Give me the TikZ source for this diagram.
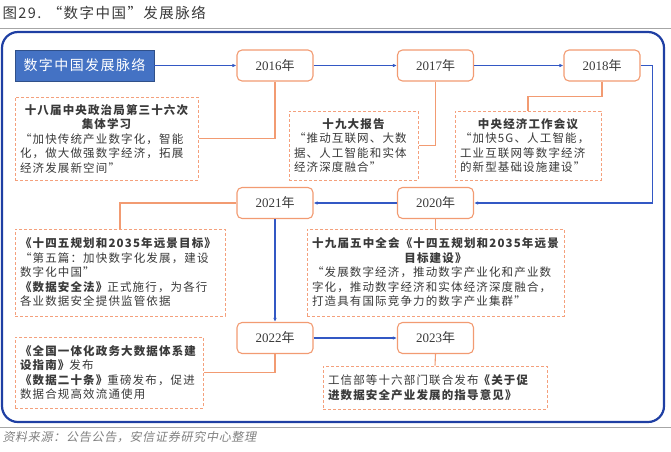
\documentclass[tikz,border=0pt]{standalone}
\usepackage{fontspec}
\setmainfont{Noto Sans CJK SC}[LetterSpace=10]
\newfontfamily\tnr{Liberation Serif}
\newfontfamily\srcfont{Noto Sans CJK SC}[FakeSlant=0.2, LetterSpace=6]
\usetikzlibrary{positioning,arrows.meta}
\definecolor{frameblue}{HTML}{1F3FA3}
\definecolor{lineblue}{HTML}{3358C4}
\definecolor{headblue}{HTML}{4472C4}
\definecolor{yearorange}{HTML}{F29B72}
\definecolor{noteorange}{HTML}{F4A07C}
\definecolor{textgray}{HTML}{3A3A3A}
\newcommand{\yr}[1]{{\tnr #1}年}
\tikzset{
  yearbox/.style={draw=yearorange, line width=1.1pt, rounded corners=5pt, fill=white,
    minimum width=76pt, minimum height=31pt, font=\fontsize{13}{14}\selectfont, text=textgray},
  notebox/.style={draw=noteorange, dash pattern=on 3pt off 2pt, line width=1pt, fill=white,
    inner sep=5pt, font=\fontsize{11.5}{14.5}\selectfont, text=textgray},
  blueline/.style={lineblue, line width=1.1pt, -{Latex[length=4pt,width=3.5pt]}},
  orangeline/.style={yearorange, line width=1.1pt}
}

\begin{document}
\begin{tikzpicture}[x=1pt, y=-1pt]
    \useasboundingbox (0,0) rectangle (671,451);
    % title and rules
    \node[anchor=west, font=\fontsize{14.5}{17}\selectfont, text=textgray] (fig) at (-1,13) {图29. “数字中国”发展脉络};
    \draw[gray!70, line width=0.8pt] (0,28) -- (671,28);
    \draw[gray!70, line width=0.8pt] (0,427) -- (671,427);
    \node[anchor=west, font=\srcfont\fontsize{12}{13}\selectfont, text=gray] (src) at (-1,437) {资料来源：公告公告，安信证券研究中心整理};
    \draw[frameblue, line width=2.2pt, rounded corners=16pt] (2,32) rectangle (664,422);
    %
    \node[fill=headblue, draw=headblue!70!black, minimum width=139pt, minimum height=31pt,
      text=white, font=\fontsize{14}{16}\selectfont] (head) at (84.5,65.5) {数字中国发展脉络};
    \node[yearbox] (y2016) at (275,65.5) {\yr{2016}};
    \node[yearbox] (y2017) at (435.5,65.5) {\yr{2017}};
    \node[yearbox] (y2018) at (602,65.5) {\yr{2018}};
    \node[yearbox] (y2020) at (435.5,203) {\yr{2020}};
    \node[yearbox] (y2021) at (275,203) {\yr{2021}};
    \node[yearbox] (y2022) at (275,338) {\yr{2022}};
    \node[yearbox] (y2023) at (435.5,338) {\yr{2023}};
    %
    \node[notebox, text width=173pt, minimum height=83pt] (n1) at (106.5,138.5)
      {{\centering\bfseries 十八届中央政治局第三十六次\\集体学习\par}
       “加快传统产业数字化，智能\\化，做大做强数字经济，拓展\\经济发展新空间”};
    \node[notebox, text width=119pt, minimum height=69pt] (n2) at (353.5,145.5)
      {{\centering\bfseries 十九大报告\par}
       “推动互联网、大数\\据、人工智能和实体\\经济深度融合”};
    \node[notebox, text width=136pt, minimum height=69pt] (n3) at (528,145.5)
      {{\centering\bfseries 中央经济工作会议\par}
       “加快5G、人工智能，\\工业互联网等数字经济\\的新型基础设施建设”};
    \node[notebox, text width=200pt, minimum height=87pt] (n4) at (120,272.5)
      {{\bfseries 《十四五规划和2035年远景目标》\par}
       “第五篇：加快数字化发展，建设\\数字化中国”\\{\bfseries《数据安全法》}正式施行，为各行\\各业数据安全提供监管依据};
    \node[notebox, text width=247pt, minimum height=87pt] (n5) at (435.5,272.5)
      {{\centering\bfseries 十九届五中全会《十四五规划和2035年远景\\目标建设》\par}
       “发展数字经济，推动数字产业化和产业数\\字化，推动数字经济和实体经济深度融合，\\打造具有国际竞争力的数字产业集群”};
    \node[notebox, text width=178pt, minimum height=71pt] (n6) at (109,372.5)
      {{\bfseries《全国一体化政务大数据体系建\\设指南》}发布\\{\bfseries《数据二十条》}重磅发布，促进\\数据合规高效流通使用};
    \node[notebox, text width=214pt, minimum height=43pt] (n7) at (435,387.5)
      {工信部等十六部门联合发布{\bfseries《关于促\\进数据安全产业发展的指导意见》}};
    %
    \draw[blueline] (head) -- (y2016);
    \draw[blueline] (y2016) -- (y2017);
    \draw[blueline] (y2017) -- (y2018);
    \draw[blueline] (y2018.east) -- ++(12,0) |- (y2020.east);
    \draw[blueline] (y2020) -- (y2021);
    \draw[blueline] (y2021) -- (y2022);
    \draw[blueline] (y2022) -- (y2023);
    %
    \draw[orangeline] (y2016.south) |- (n1.east);
    \draw[orangeline] (y2017.south) |- (n2.east);
    \draw[orangeline] (y2018.south) -- ++(0,15) -| (n3.north);
    \draw[orangeline] (y2021.west) -| (n4.north);
    \draw[orangeline] (y2020.south) -- (n5.north);
    \draw[orangeline] (y2022.south) |- (n6.east);
    \draw[orangeline] (y2023.south) -- (n7.north);
\end{tikzpicture}
\end{document}
